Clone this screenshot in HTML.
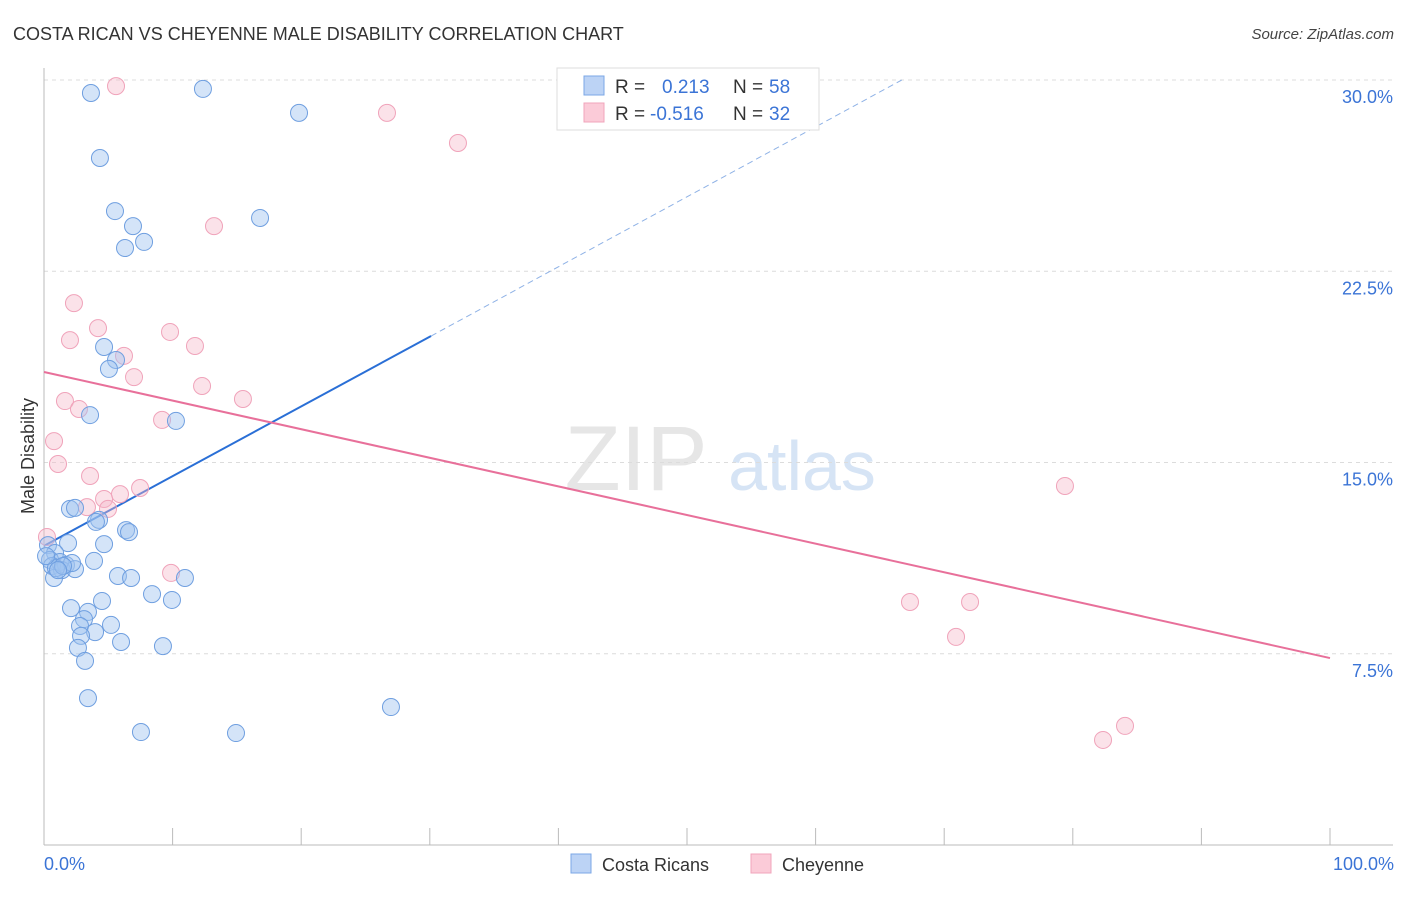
<!DOCTYPE html>
<html><head><meta charset="utf-8"><style>
body{margin:0;background:#fff;font-family:"Liberation Sans",sans-serif;}
svg text{font-family:"Liberation Sans",sans-serif;}
</style></head><body>
<svg id="chart" width="1406" height="892" xmlns="http://www.w3.org/2000/svg">
<text x="13" y="40" font-size="18" fill="#333">COSTA RICAN VS CHEYENNE MALE DISABILITY CORRELATION CHART</text>
<text x="1394" y="39" font-size="15" fill="#444" font-style="italic" text-anchor="end">Source: ZipAtlas.com</text>
<g>
<text x="636" y="490" font-size="92" fill="#e6e6e6" font-family="Liberation Serif" text-anchor="middle">ZIP</text>
<text x="802" y="490" font-size="70" fill="#d6e4f5" text-anchor="middle">atlas</text>
</g>
<g id="grid"></g>
<g id="axes"></g>
<g id="lines"></g>
<g id="points"></g>
<text transform="translate(34,456) rotate(-90)" font-size="18" fill="#333" text-anchor="middle">Male Disability</text>
<text x="44" y="870" font-size="18" fill="#3b74d6">0.0%</text>
<text x="1394" y="870" font-size="18" fill="#3b74d6" text-anchor="end">100.0%</text>
<g>
<rect x="557" y="68" width="262" height="62" fill="#fff" stroke="#ddd"/>
<rect x="584" y="76" width="20" height="19" fill="#bcd3f5" stroke="#7ba7e6"/>
<rect x="584" y="103" width="20" height="19" fill="#fbcbd8" stroke="#f0a5bb"/>
<text x="615" y="93" font-size="19" fill="#333">R =</text>
<text x="662" y="93" font-size="19" fill="#3b74d6">0.213</text>
<text x="733" y="93" font-size="19" fill="#333">N =</text>
<text x="769" y="93" font-size="19" fill="#3b74d6">58</text>
<text x="615" y="120" font-size="19" fill="#333">R =</text>
<text x="650" y="120" font-size="19" fill="#3b74d6">-0.516</text>
<text x="733" y="120" font-size="19" fill="#333">N =</text>
<text x="769" y="120" font-size="19" fill="#3b74d6">32</text>
</g>
<g>
<rect x="571" y="854" width="20" height="19" fill="#bcd3f5" stroke="#7ba7e6"/>
<text x="602" y="871" font-size="18" fill="#333">Costa Ricans</text>
</g>
<g>
<rect x="751" y="854" width="20" height="19" fill="#fbcbd8" stroke="#f0a5bb"/>
<text x="782" y="871" font-size="18" fill="#333">Cheyenne</text>
</g>
</svg>
<script>
const yTicks=[7.5,15,22.5,30];
const yTickLabels=["7.5%","15.0%","22.5%","30.0%"];
const blueX=[3.65,12.36,19.83,4.35,5.52,6.92,7.78,6.3,16.8,4.67,5.6,5.05,3.58,10.26,2.02,2.41,4.28,4.04,6.38,6.61,4.67,1.87,0.31,0.86,0.47,1.24,0.62,1.71,1.4,2.41,3.89,2.18,0.78,5.75,6.77,10.96,8.4,2.1,3.42,4.51,9.95,3.11,2.8,5.21,3.97,2.88,5.99,9.25,2.64,3.19,3.42,7.54,14.93,26.98,0.93,1.48,0.16,1.09];
const blueY=[29.49,29.65,28.71,26.94,24.86,24.27,23.65,23.41,24.59,19.53,19.02,18.67,16.86,16.63,13.18,13.22,12.75,12.67,12.35,12.27,11.8,11.84,11.76,11.45,11.18,11.1,10.94,10.98,10.78,10.82,11.14,11.06,10.47,10.55,10.47,10.47,9.84,9.29,9.14,9.57,9.61,8.86,8.59,8.63,8.35,8.2,7.96,7.8,7.73,7.22,5.76,4.43,4.39,5.41,10.86,10.94,11.33,10.78];
const pinkX=[5.6,26.67,32.19,13.22,2.33,4.2,9.8,2.02,11.74,6.22,7.0,12.29,1.63,15.47,2.72,9.18,0.78,1.09,3.58,7.47,5.91,4.67,3.34,4.98,0.23,9.88,79.39,67.34,72.01,70.92,84.06,82.35];
const pinkY=[29.76,28.71,27.53,24.27,21.25,20.27,20.12,19.8,19.57,19.18,18.35,18.0,17.41,17.49,17.1,16.67,15.84,14.94,14.47,14.0,13.76,13.57,13.25,13.18,12.08,10.67,14.08,9.53,9.53,8.16,4.67,4.12];
const blueTrend=[[0,11.73],[30.1,19.96],[66.7,30]];
const pinkTrend=[[0,18.55],[100,7.33]];
const NS="http://www.w3.org/2000/svg";
const sx=v=>44+v*12.86;
const sy=v=>845-v*25.5;
function mk(t,a,p){const e=document.createElementNS(NS,t);for(const k in a)e.setAttribute(k,a[k]);document.getElementById(p).appendChild(e);return e;}
yTicks.forEach((t,i)=>{
 const l=mk('line',{x1:44,x2:1393,y1:sy(t),y2:sy(t),stroke:'#dcdcdc','stroke-dasharray':'4,4'},'grid');
 
 
 const tx=mk('text',{x:1393,y:sy(t)+23,'font-size':18,fill:'#3b74d6','text-anchor':'end'},'grid');
 tx.textContent=yTickLabels[i];
 
 
});
let a=mk('line',{x1:44,x2:44,y1:68,y2:845,stroke:'#bbb'},'axes');


a=mk('line',{x1:44,x2:1393,y1:845,y2:845,stroke:'#bbb'},'axes');


for(let i=1;i<=10;i++){const t=mk('line',{x1:sx(i*10),x2:sx(i*10),y1:828,y2:845,stroke:'#bbb'},'axes');
 
 }
function pt(x,y,fill,stroke,name){const c=mk('circle',{cx:sx(x),cy:sy(y),r:8.5,fill:fill,stroke:stroke,'stroke-width':1},'points');
 
 }
pinkX.forEach((x,i)=>pt(x,pinkY[i],'rgba(246,182,201,0.4)','#f0a3ba','cheyenne-point'));
blueX.forEach((x,i)=>pt(x,blueY[i],'rgba(160,195,240,0.45)','#6f9fe0','costa-rican-point'));
let l=mk('line',{x1:sx(blueTrend[0][0]),y1:sy(blueTrend[0][1]),x2:sx(blueTrend[1][0]),y2:sy(blueTrend[1][1]),stroke:'#2a6fd6','stroke-width':2},'lines');


l=mk('line',{x1:sx(blueTrend[1][0]),y1:sy(blueTrend[1][1]),x2:sx(blueTrend[2][0]),y2:sy(blueTrend[2][1]),stroke:'#8fb2e6','stroke-width':1,'stroke-dasharray':'6,4'},'lines');


l=mk('line',{x1:sx(pinkTrend[0][0]),y1:sy(pinkTrend[0][1]),x2:sx(pinkTrend[1][0]),y2:sy(pinkTrend[1][1]),stroke:'#e8709a','stroke-width':2},'lines');


</script>
</body></html>
